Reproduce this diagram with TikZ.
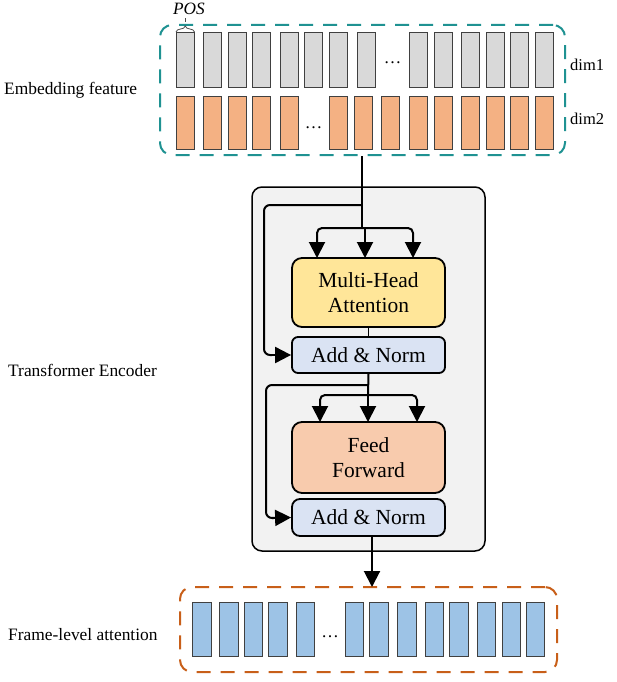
\documentclass[tikz,border=0pt]{standalone}
\usepackage{fontspec}
\setmainfont{Liberation Serif}
\usetikzlibrary{arrows.meta,decorations.pathreplacing}
\definecolor{tealdash}{RGB}{31,146,146}
\definecolor{orangedash}{RGB}{200,95,25}
\definecolor{barA}{RGB}{217,217,217}
\definecolor{barB}{RGB}{244,177,131}
\definecolor{barC}{RGB}{157,195,230}
\definecolor{mhafill}{RGB}{255,230,153}
\definecolor{fffill}{RGB}{248,203,173}
\definecolor{anfill}{RGB}{218,227,243}
\definecolor{encfill}{RGB}{242,242,242}
\definecolor{bardraw}{RGB}{64,64,64}
\tikzset{
  x=1pt,y=-1pt,
  bar/.style={draw=bardraw,line width=0.9pt,minimum width=18.5pt,inner sep=0pt,outer sep=0pt},
  dashbox/.style={draw,line width=2pt,dash pattern=on 14pt off 10pt,rounded corners=12pt,inner sep=0pt,minimum width=#1},
  block/.style={draw,line width=1.8pt,rounded corners=10pt,inner sep=0pt,minimum width=153pt,align=center,
     font=\fontsize{21.5}{25.5}\selectfont},
  sidelabel/.style={anchor=west,inner sep=0pt,font=\fontsize{17.4}{20}\selectfont},
  dimlabel/.style={anchor=west,inner sep=0pt,font=\fontsize{16.5}{20}\selectfont},
  conn/.style={line width=2pt},
  arr/.style={line width=2pt,-{Triangle[length=16pt,width=16pt]}},
  dots/.style={inner sep=0pt,font=\fontsize{17.5}{20}\selectfont},
}
\begin{document}
\begin{tikzpicture}
\useasboundingbox (0,0) rectangle (617,682);

% encoder background
\node[draw,line width=1.5pt,fill=encfill,rounded corners=10pt,minimum width=233pt,minimum height=364pt,inner sep=0pt] (enc) at (368.5,369) {};

% embedding box
\node[dashbox=405pt,draw=tealdash,minimum height=130pt] (emb) at (362.5,90) {};
% gray bars
\foreach \x [count=\i] in {176,203,228,252,280,304,329,357,409,434,461,486,510,535}
  \node[bar,fill=barA,minimum height=55pt,anchor=north west] (g\i) at (\x,32) {};
\node[dots] (gdots) at (392.5,63) {\dots};
% orange bars
\foreach \x [count=\i] in {176,203,228,252,280,329,354,381,409,434,461,486,510,535}
  \node[bar,fill=barB,minimum height=53pt,anchor=north west] (o\i) at (\x,96) {};
\node[dots] (odots) at (313.5,128) {\dots};

\node[dimlabel] (dim1) at (570,65) {dim1};
\node[dimlabel] (dim2) at (570,119) {dim2};

% POS brace
\draw[decorate,decoration={brace,amplitude=6pt},line width=0.8pt,draw=black!70] (176,32) -- (194.5,32);
\node[inner sep=0pt,font=\fontsize{17.3}{20}\selectfont\itshape] (pos) at (189,8.5) {POS};
\draw[line width=0.8pt,draw=black!70] (185.25,22) -- (185.25,18);

% labels
\node[sidelabel] (lab1) at (4,90) {Embedding feature};
\node[sidelabel] (lab2) at (8,370) {Transformer Encoder};
\node[sidelabel] (lab3) at (8,635) {Frame-level attention};

% blocks
\node[block,fill=mhafill,minimum height=69pt] (mha) at (368.5,292.5) {Multi-Head\\Attention};
\node[block,fill=anfill,minimum height=36pt,rounded corners=6pt] (an1) at (368.5,355) {Add \& Norm};
\node[block,fill=fffill,minimum height=71pt] (ff) at (368.5,457.5) {Feed\\Forward};
\node[block,fill=anfill,minimum height=37pt,rounded corners=8pt] (an2) at (368.5,517.5) {Add \& Norm};

% output box
\node[dashbox=377pt,draw=orangedash,minimum height=85pt] (out) at (368.5,629.5) {};
\foreach \x [count=\i] in {192.5,219.5,244,268.5,296,345,369.5,397.5,425,449.5,477,502,526}
  \node[bar,fill=barC,minimum height=54pt,anchor=north west] (b\i) at (\x,602) {};
\node[dots] (bdots) at (330,637) {\dots};

% connectors: first sub-layer
\coordinate (s1) at (362,228);
\coordinate (r1) at (362,205);
\draw[conn] (emb.south -| s1) -- (s1);
\draw[conn,rounded corners=6pt] (r1) -- (264,205) -- (264,355) -- (272,355);
\draw[arr] (270,355) -- (an1.west);
\draw[arr,rounded corners=5pt] (s1) -- (317,228) -- (317,258);
\draw[arr,rounded corners=5pt] (s1) -- (413,228) -- (413,258);
\draw[arr] (365,228) -- (365,258);
\draw[line width=1.2pt] (mha.south) -- (an1.north);

% second sub-layer
\coordinate (s2) at (368,395);
\coordinate (r2) at (368,385);
\draw[conn] (an1.south) -- (s2);
\draw[conn,rounded corners=6pt] (r2) -- (266,385) -- (266,518) -- (274,518);
\draw[arr] (272,518) -- (an2.west);
\draw[arr,rounded corners=5pt] (s2) -- (320,395) -- (320,422);
\draw[arr,rounded corners=5pt] (s2) -- (417,395) -- (417,422);
\draw[arr] (s2) -- (368,422);

% output
\draw[arr] (372,536) -- (372,587);
\end{tikzpicture}
\end{document}
